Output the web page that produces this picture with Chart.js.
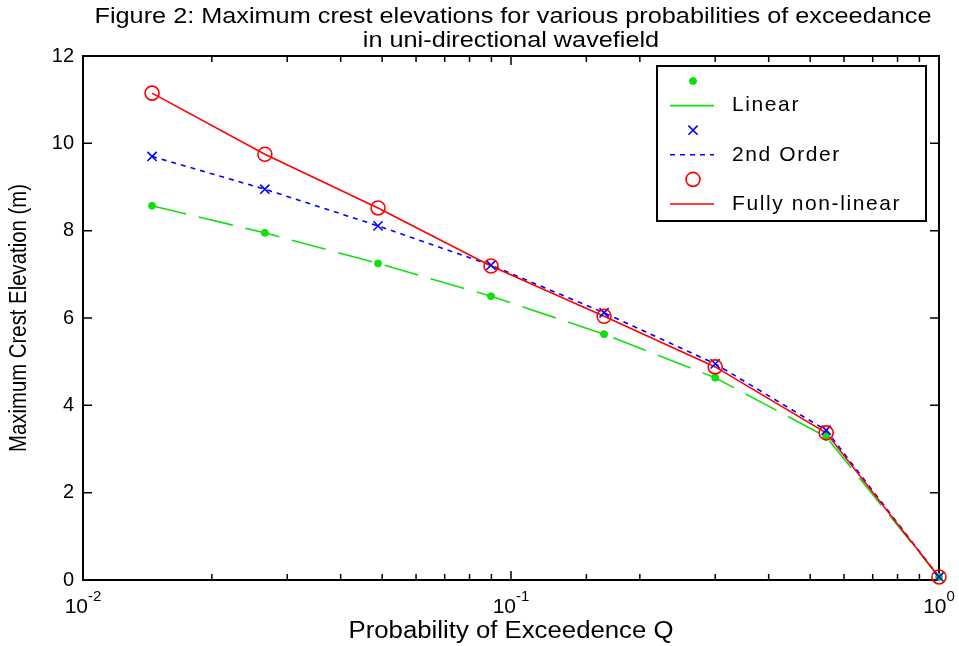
<!DOCTYPE html>
<html>
<head>
<meta charset="utf-8">
<script src="https://cdn.jsdelivr.net/npm/chart.js@4"></script>
<style>
  html, body { margin: 0; padding: 0; background: #fff; }
</style>
</head>
<body>
<canvas id="crestChart" width="959" height="646"></canvas>
<script>
// probability of exceedence Q
const probQ = [0.0145, 0.0266, 0.0489, 0.0898, 0.165, 0.30, 0.545, 1.0];
// maximum crest elevation (m)
const linearCrest = [8.57, 7.95, 7.25, 6.50, 5.63, 4.63, 3.28, 0.07];
const secondOrderCrest = [9.70, 8.95, 8.11, 7.21, 6.12, 4.95, 3.43, 0.07];
const fullyNonLinearCrest = [11.15, 9.75, 8.52, 7.19, 6.04, 4.88, 3.37, 0.07];

const xTicks = [0.01, 0.1, 1];
const xTickLabels = [["10", "-2"], ["10", "-1"], ["10", "0"]];
const yTicks = [0, 2, 4, 6, 8, 10, 12];
const legendLabels = ["", "Linear", "", "2nd Order", "", "Fully non-linear"];
const titleLines = ["Figure 2: Maximum crest elevations for various probabilities of exceedance",
                    "in uni-directional wavefield"];
const xTitle = "Probability of Exceedence Q";
const yTitle = "Maximum Crest Elevation (m)";

const GREEN = "#10e010", BLUE = "#0000ff", RED = "#ff0000";
const FONT = "'Liberation Sans', Arial, sans-serif";

const toPoints = ys => probQ.map((q, i) => ({ x: q, y: ys[i] }));

const datasets = [
    { label: legendLabels[0], data: toPoints(linearCrest), showLine: false, order: 2,
      pointStyle: "circle", pointRadius: 3.5, pointBackgroundColor: GREEN, pointBorderColor: GREEN, pointBorderWidth: 1 },
    { label: legendLabels[1], data: toPoints(linearCrest), order: 5, pointRadius: 0,
      borderColor: GREEN, borderWidth: 1.6, borderDash: [35, 13], legendDash: [] },
    { label: legendLabels[2], data: toPoints(secondOrderCrest), showLine: false, order: 1,
      pointStyle: "crossRot", pointRadius: 6.5, pointBorderColor: BLUE, pointBackgroundColor: BLUE, pointBorderWidth: 1.6 },
    { label: legendLabels[3], data: toPoints(secondOrderCrest), order: 4, pointRadius: 0,
      borderColor: BLUE, borderWidth: 1.6, borderDash: [5, 5], legendDash: [5, 5] },
    { label: legendLabels[4], data: toPoints(fullyNonLinearCrest), showLine: false, order: 0,
      pointStyle: "circle", pointRadius: 7, pointBorderColor: RED, pointBackgroundColor: "rgba(0,0,0,0)", pointBorderWidth: 1.6 },
    { label: legendLabels[5], data: toPoints(fullyNonLinearCrest), order: 3, pointRadius: 0,
      borderColor: RED, borderWidth: 1.6, legendDash: [] }
];
datasets.forEach(d => { d.clip = false; d.fill = false; });

// squeeze text into a given width (the original uses a narrow font)
function fitText(ctx, text, cx, cy, width, font, rot) {
    ctx.save();
    ctx.font = font;
    ctx.textAlign = "center";
    ctx.textBaseline = "middle";
    const w = ctx.measureText(text).width;
    ctx.translate(cx, cy);
    if (rot) ctx.rotate(rot);
    ctx.scale(width / w, 1);
    ctx.fillText(text, 0, 0);
    ctx.restore();
}

const matlabFrame = {
    id: "matlabFrame",
    beforeDatasetsDraw(chart) {
        const { ctx, chartArea: a, scales: { x, y } } = chart;
        ctx.save();
        ctx.strokeStyle = "#000";
        ctx.lineWidth = 2;
        ctx.strokeRect(a.left, a.top, a.right - a.left, a.bottom - a.top);
        ctx.lineWidth = 1.5;
        ctx.beginPath();
        x.ticks.forEach(t => {
            const px = x.getPixelForValue(t.value);
            const lg = Math.log10(t.value);
            const len = Math.abs(lg - Math.round(lg)) < 1e-6 ? 9 : 6;
            ctx.moveTo(px, a.bottom); ctx.lineTo(px, a.bottom - len);
            ctx.moveTo(px, a.top); ctx.lineTo(px, a.top + len);
        });
        y.ticks.forEach(t => {
            const py = y.getPixelForValue(t.value);
            ctx.moveTo(a.left, py); ctx.lineTo(a.left + 9, py);
            ctx.moveTo(a.right, py); ctx.lineTo(a.right - 9, py);
        });
        ctx.stroke();
        ctx.restore();
    },
    afterDraw(chart) {
        const { ctx, chartArea: a, scales: { x } } = chart;
        ctx.save();
        ctx.fillStyle = "#000";

        // x tick labels with exponents
        xTicks.forEach((v, i) => {
            const [base, exp] = xTickLabels[i];
            const px = x.getPixelForValue(v);
            ctx.font = "21px " + FONT;
            const wb = ctx.measureText(base).width;
            ctx.font = "15px " + FONT;
            const we = ctx.measureText(exp).width;
            const x0 = px - (wb + we) / 2;
            ctx.textAlign = "left";
            ctx.textBaseline = "alphabetic";
            ctx.font = "21px " + FONT;
            ctx.fillText(base, x0, a.bottom + 33);
            ctx.font = "15px " + FONT;
            ctx.fillText(exp, x0 + wb, a.bottom + 21);
        });

        // titles
        const cx = (a.left + a.right) / 2;
        const titleFont = "22px " + FONT;
        ctx.font = titleFont;
        const s = 837 / ctx.measureText(titleLines[0]).width;
        fitText(ctx, titleLines[0], cx + 2, 17, 837, titleFont);
        fitText(ctx, titleLines[1], cx, 41, ctx.measureText(titleLines[1]).width * s, titleFont);
        fitText(ctx, xTitle, cx, a.bottom + 52, 325, "23px " + FONT);
        fitText(ctx, yTitle, 20, (a.top + a.bottom) / 2, 268, "23px " + FONT, -Math.PI / 2);

        // legend box
        const bx = a.right - 282, by = a.top + 10, bw = 269, bh = 155;
        ctx.fillStyle = "#fff";
        ctx.fillRect(bx, by, bw, bh);
        ctx.strokeStyle = "#000";
        ctx.lineWidth = 2;
        ctx.strokeRect(bx, by, bw, bh);

        chart.data.datasets.forEach((d, i) => {
            const ry = by + 15 + i * 24.6;
            if (d.showLine === false) {
                ctx.save();
                ctx.strokeStyle = d.pointBorderColor;
                ctx.fillStyle = d.pointBackgroundColor;
                ctx.lineWidth = d.pointBorderWidth;
                Chart.helpers.drawPoint(ctx, {
                    pointStyle: d.pointStyle, radius: d.pointRadius,
                    borderWidth: d.pointBorderWidth, rotation: 0
                }, bx + 36, ry);
                ctx.restore();
            } else {
                ctx.save();
                ctx.strokeStyle = d.borderColor;
                ctx.lineWidth = d.borderWidth;
                ctx.setLineDash(d.legendDash || []);
                ctx.beginPath();
                ctx.moveTo(bx + 13, ry);
                ctx.lineTo(bx + 57, ry);
                ctx.stroke();
                ctx.restore();
            }
            if (d.label) {
                ctx.save();
                ctx.fillStyle = "#000";
                ctx.font = "21px " + FONT;
                ctx.letterSpacing = "1.6px";
                ctx.textAlign = "left";
                ctx.textBaseline = "middle";
                ctx.fillText(d.label, bx + 75, ry);
                ctx.restore();
            }
        });
        ctx.restore();
    }
};

new Chart(document.getElementById("crestChart"), {
    type: "line",
    data: { datasets: datasets },
    options: {
        responsive: false,
        animation: false,
        devicePixelRatio: 1,
        layout: { padding: { top: 56, right: 20, left: 0, bottom: 0 } },
        plugins: { legend: { display: false }, tooltip: { enabled: false }, title: { display: false } },
        scales: {
            x: {
                type: "logarithmic",
                min: xTicks[0],
                max: xTicks[xTicks.length - 1],
                grid: { display: false, drawTicks: false },
                border: { display: false },
                ticks: { autoSkip: false, callback: () => "" },
                afterFit: scale => { scale.height = 66; }
            },
            y: {
                type: "linear",
                min: yTicks[0],
                max: yTicks[yTicks.length - 1],
                grid: { display: false, drawTicks: false },
                border: { display: false },
                afterBuildTicks: scale => { scale.ticks = yTicks.map(v => ({ value: v })); },
                ticks: { color: "#000", padding: 9, font: { family: FONT, size: 20 } },
                afterFit: scale => { scale.width = 83; }
            }
        }
    },
    plugins: [matlabFrame]
});
</script>
</body>
</html>
